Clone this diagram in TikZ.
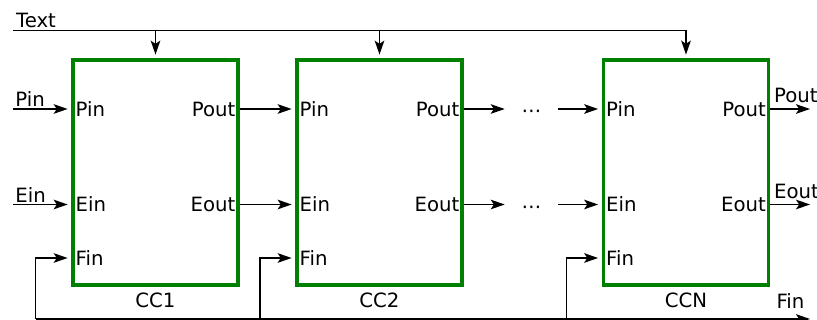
\documentclass[tikz,border=0pt]{standalone}
\usepackage{fontspec}
\setmainfont{DejaVu Sans}
\usetikzlibrary{arrows.meta,positioning,calc}
\definecolor{cellgreen}{HTML}{008000}

\begin{document}
\begin{tikzpicture}[x=0.025cm, y=-0.025cm, every node/.style={font=\fontsize{14}{17}\selectfont, inner sep=1pt},
    cell/.style={draw=cellgreen, line width=2.6pt, minimum width=4.125cm, minimum height=5.625cm, inner sep=0pt},
    sig/.style={-{Stealth[length=3.5mm, width=2.4mm, inset=0.8mm]}, line width=1.1pt},
    into/.style={sig, shorten >=2.5pt},
    gap/.style={minimum width=1.325cm, inner sep=0pt, text height=0pt, text depth=0pt}]
  \useasboundingbox (0,0) rectangle (817,320);
  \node[cell] (cc1) at (155.5,172.5) {};
  \node[cell] (cc2) at (379.5,172.5) {};
  \node[cell] (ccn) at (686,172.5) {};
  \foreach \c/\n in {cc1/CC1,cc2/CC2,ccn/CCN}{
    \node[anchor=west, inner sep=3pt] (\c-pin) at ($(\c.west)+(0,-63.5)$) {Pin};
    \node[anchor=west, inner sep=3pt] (\c-ein) at ($(\c.west)+(0,32)$) {Ein};
    \node[anchor=west, inner sep=3pt] (\c-fin) at ($(\c.west)+(0,85.5)$) {Fin};
    \node[anchor=east, inner sep=3pt] (\c-pout) at ($(\c.east)+(0,-63.5)$) {Pout};
    \node[anchor=east, inner sep=3pt] (\c-eout) at ($(\c.east)+(0,32)$) {Eout};
    \node (\c-name) at ($(\c.south)+(0,13)$) {\n};
  }
  \node[gap] (pdots) at (531.5,109) {\raisebox{-6.3pt}{⋯}};
  \node[gap] (edots) at (531.5,204.5) {\raisebox{-6.3pt}{⋯}};

  \coordinate (textsrc) at (13,30.5);
  \coordinate (pinsrc) at (13,109);
  \coordinate (einsrc) at (13,204.5);
  \coordinate (poutend) at (810,109);
  \coordinate (eoutend) at (810,204.5);
  \coordinate (fin1) at (35.5,319);
  \coordinate (fin2) at (260,319);
  \coordinate (finn) at (566.5,319);
  \coordinate (finend) at (810,319);

  \node[anchor=south west, inner sep=2pt] (textlbl) at (textsrc) {Text};
  \node[anchor=south west, inner sep=1.5pt] (pinlbl) at (pinsrc) {Pin};
  \node[anchor=south west, inner sep=1.5pt] (einlbl) at (einsrc) {Ein};
  \node[above right=3pt and 1.5pt of ccn-pout.east] (poutlbl) {Pout};
  \node[above right=3pt and 1.5pt of ccn-eout.east] (eoutlbl) {Eout};
  \node (finlbl) at (790.5,301) {Fin};

  \draw[into] (textsrc) -| (ccn.north);
  \foreach \c in {cc1,cc2}{\draw[into] (\c.north |- textsrc) -- (\c.north);}
  \draw[into] (pinsrc) -- (cc1-pin.west);
  \draw[into] (einsrc) -- (cc1-ein.west);
  \foreach \x/\y in {cc1/cc2}{
    \draw[into] (\x-pout.east) -- (\y-pin.west);
    \draw[into] (\x-eout.east) -- (\y-ein.west);
  }
  \draw[sig] (cc2-pout.east) -- (pdots);
  \draw[sig] (cc2-eout.east) -- (edots);
  \draw[into] (pdots) -- (ccn-pin.west);
  \draw[into] (edots) -- (ccn-ein.west);
  \draw[sig] (ccn-pout.east) -- (poutend);
  \draw[sig] (ccn-eout.east) -- (eoutend);
  \draw[sig] (fin1) -- (finend);
  \foreach \f/\c in {fin1/cc1,fin2/cc2,finn/ccn}{\draw[into] (\f) |- (\c-fin.west);}
\end{tikzpicture}
\end{document}
